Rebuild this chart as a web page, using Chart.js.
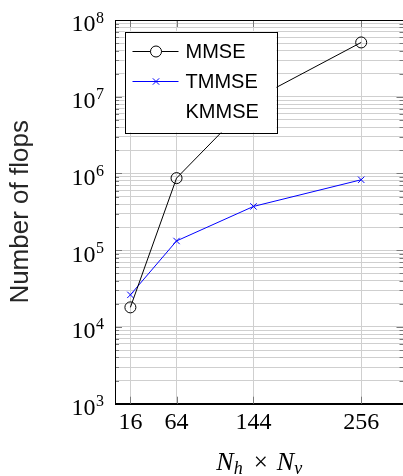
<!DOCTYPE html>
<html>
<head>
<meta charset="utf-8">
<script src="https://cdn.jsdelivr.net/npm/chart.js@4.4.1/dist/chart.umd.min.js"></script>
<style>
  html, body { margin: 0; padding: 0; background: #fff; overflow: hidden; }
  #wrap { width: 412px; height: 476px; }
</style>
</head>
<body>
<div id="wrap"><canvas id="myChart" width="412" height="476"></canvas></div>
<script>
// x positions (also the x tick labels)
var xTicks = [16, 64, 144, 256];
// series values
var mmse = [1.8e4, 8.7e5, 9.2e6, 5.1e7];
var tmmse = [2.62e4, 1.32e5, 3.72e5, 8.28e5];
var kmmse = [null, null, null, null];
// y axis decades 10^3 .. 10^8
var yExponents = [3, 4, 5, 6, 7, 8];

function points(values) {
  return xTicks.map(function (x, i) { return { x: x, y: values[i] }; });
}

var serif = "'Liberation Serif', serif";
var sans = "'Liberation Sans', Arial, sans-serif";

// log ticks: 1..9 x 10^e for every decade
function logTicks() {
  var t = [];
  for (var i = 0; i < yExponents.length - 1; i++) {
    for (var k = 1; k <= 9; k++) t.push({ value: k * Math.pow(10, yExponents[i]) });
  }
  t.push({ value: Math.pow(10, yExponents[yExponents.length - 1]) });
  return t;
}

// pgfplots-like frame, inner tick marks, y labels with exponent, x title, legend
var pgfLook = {
  id: "pgfLook",
  afterDatasetsDraw: function (chart) {
    var ctx = chart.ctx, a = chart.chartArea;
    var xs = chart.scales.x, ys = chart.scales.y;
    ctx.save();
    ctx.strokeStyle = "#7a7a7a";
    ctx.lineWidth = 1;
    ys.ticks.forEach(function (t) {
      var y = Math.round(ys.getPixelForValue(t.value)) + 0.5;
      var lg = Math.log10(t.value);
      var len = Math.abs(lg - Math.round(lg)) < 1e-9 ? 7 : 4;
      ctx.beginPath();
      ctx.moveTo(a.left, y); ctx.lineTo(a.left + len, y);
      ctx.moveTo(a.right, y); ctx.lineTo(a.right - len, y);
      ctx.stroke();
    });
    xs.ticks.forEach(function (t) {
      var x = Math.round(xs.getPixelForValue(t.value)) + 0.5;
      ctx.beginPath();
      ctx.moveTo(x, a.bottom); ctx.lineTo(x, a.bottom - 7);
      ctx.moveTo(x, a.top); ctx.lineTo(x, a.top + 7);
      ctx.stroke();
    });
    // frame
    ctx.strokeStyle = "#000";
    ctx.strokeRect(Math.round(a.left) + 0.5, Math.round(a.top) + 0.5,
      Math.round(a.right - a.left), Math.round(a.bottom - a.top));

    // y tick labels 10^e
    ctx.fillStyle = "#000";
    ctx.textBaseline = "alphabetic";
    yExponents.forEach(function (e) {
      var y = ys.getPixelForValue(Math.pow(10, e));
      var right = a.left - 11;
      ctx.font = "16px " + serif;
      var ew = ctx.measureText(String(e)).width;
      ctx.textAlign = "right";
      ctx.fillText(String(e), right, y + 2.5);
      ctx.font = "24px " + serif;
      ctx.fillText("10", right - ew - 0.5, y + 11.3);
    });

    // x axis title N_h x N_v
    var parts = [
      { t: "N", f: "italic 26px " + serif, dy: 0, gap: 0 },
      { t: "h", f: "italic 18px " + serif, dy: 4.5, gap: 11 },
      { t: "\u00d7", f: "25px " + serif, dy: 0, gap: 9 },
      { t: "N", f: "italic 26px " + serif, dy: 0, gap: 0 },
      { t: "v", f: "italic 18px " + serif, dy: 4.5, gap: 0 }
    ];
    var total = 0;
    parts.forEach(function (p) { ctx.font = p.f; p.w = ctx.measureText(p.t).width; total += p.w + p.gap; });
    var x0 = (a.left + a.right) / 2 - total / 2;
    ctx.textAlign = "left";
    parts.forEach(function (p) {
      ctx.font = p.f;
      ctx.fillText(p.t, x0, 469.5 + p.dy);
      x0 += p.w + p.gap;
    });

    // legend box
    var bx = a.left + 9.5, by = a.top + 11.5, bw = 152, bh = 101;
    ctx.fillStyle = "#fff";
    ctx.fillRect(bx, by, bw, bh);
    ctx.strokeStyle = "#000";
    ctx.strokeRect(Math.round(bx) + 0.5, Math.round(by) + 0.5, bw, bh);
    chart.data.datasets.forEach(function (ds, i) {
      var cy = by + 19.5 + i * 30;
      if (ds.showLine !== false && ds.borderColor !== "transparent") {
        ctx.strokeStyle = ds.borderColor;
        ctx.lineWidth = 1;
        ctx.beginPath();
        ctx.moveTo(bx + 8, Math.round(cy) + 0.5);
        ctx.lineTo(bx + 54, Math.round(cy) + 0.5);
        ctx.stroke();
        Chart.helpers.drawPoint(ctx, {
          pointStyle: ds.pointStyle, radius: ds.pointRadius, borderWidth: 1, rotation: 0
        }, bx + 31.5, Math.round(cy) + 0.5);
      }
      ctx.fillStyle = "#000";
      ctx.font = "20px " + sans;
      ctx.textAlign = "left";
      ctx.textBaseline = "middle";
      ctx.fillText(ds.label, bx + 61, cy + 1);
    });
    ctx.restore();
  }
};

var ctx = document.getElementById("myChart").getContext("2d");
var chart = new Chart(ctx, {
  type: "line",
  data: {
    datasets: [
      {
        label: "MMSE",
        data: points(mmse),
        borderColor: "#000000",
        backgroundColor: "#ffffff",
        borderWidth: 1,
        pointStyle: "circle",
        pointRadius: 5.5,
        pointBorderWidth: 1,
        pointBackgroundColor: "rgba(255,255,255,0)",
        pointBorderColor: "#000000",
        fill: false,
        tension: 0
      },
      {
        label: "TMMSE",
        data: points(tmmse),
        borderColor: "#0000ff",
        backgroundColor: "#0000ff",
        borderWidth: 1,
        pointStyle: "crossRot",
        pointRadius: 4.5,
        pointBorderWidth: 1,
        pointBorderColor: "#0000ff",
        fill: false,
        tension: 0
      },
      {
        label: "KMMSE",
        data: points(kmmse),
        borderColor: "transparent",
        showLine: false,
        pointRadius: 0
      }
    ]
  },
  options: {
    responsive: false,
    animation: false,
    layout: { padding: { top: 20, left: 0, right: 8.5, bottom: 0 } },
    plugins: { legend: { display: false }, tooltip: { enabled: false } },
    scales: {
      x: {
        type: "linear",
        min: 0,
        max: 300,
        afterBuildTicks: function (scale) {
          scale.ticks = xTicks.map(function (v) { return { value: v }; });
        },
        afterFit: function (scale) { scale.height = 72.3; },
        grid: { color: "#cfcfcf", lineWidth: 1, drawTicks: false },
        border: { display: true, color: "#000" },
        ticks: {
          autoSkip: false,
          maxRotation: 0,
          padding: 5,
          color: "#000",
          font: { family: serif, size: 24 }
        }
      },
      y: {
        type: "logarithmic",
        min: 1e3,
        max: 1e8,
        afterBuildTicks: function (scale) { scale.ticks = logTicks(); },
        afterFit: function (scale) { scale.width = 115; },
        grid: { color: "#cfcfcf", lineWidth: 1, drawTicks: false },
        border: { display: true, color: "#000" },
        ticks: { display: false, autoSkip: false },
        title: {
          display: true,
          text: "Number of flops",
          color: "#262626",
          font: { family: sans, size: 26 },
          padding: { top: 5, bottom: 0 }
        }
      }
    }
  },
  plugins: [pgfLook]
});
</script>
</body>
</html>
